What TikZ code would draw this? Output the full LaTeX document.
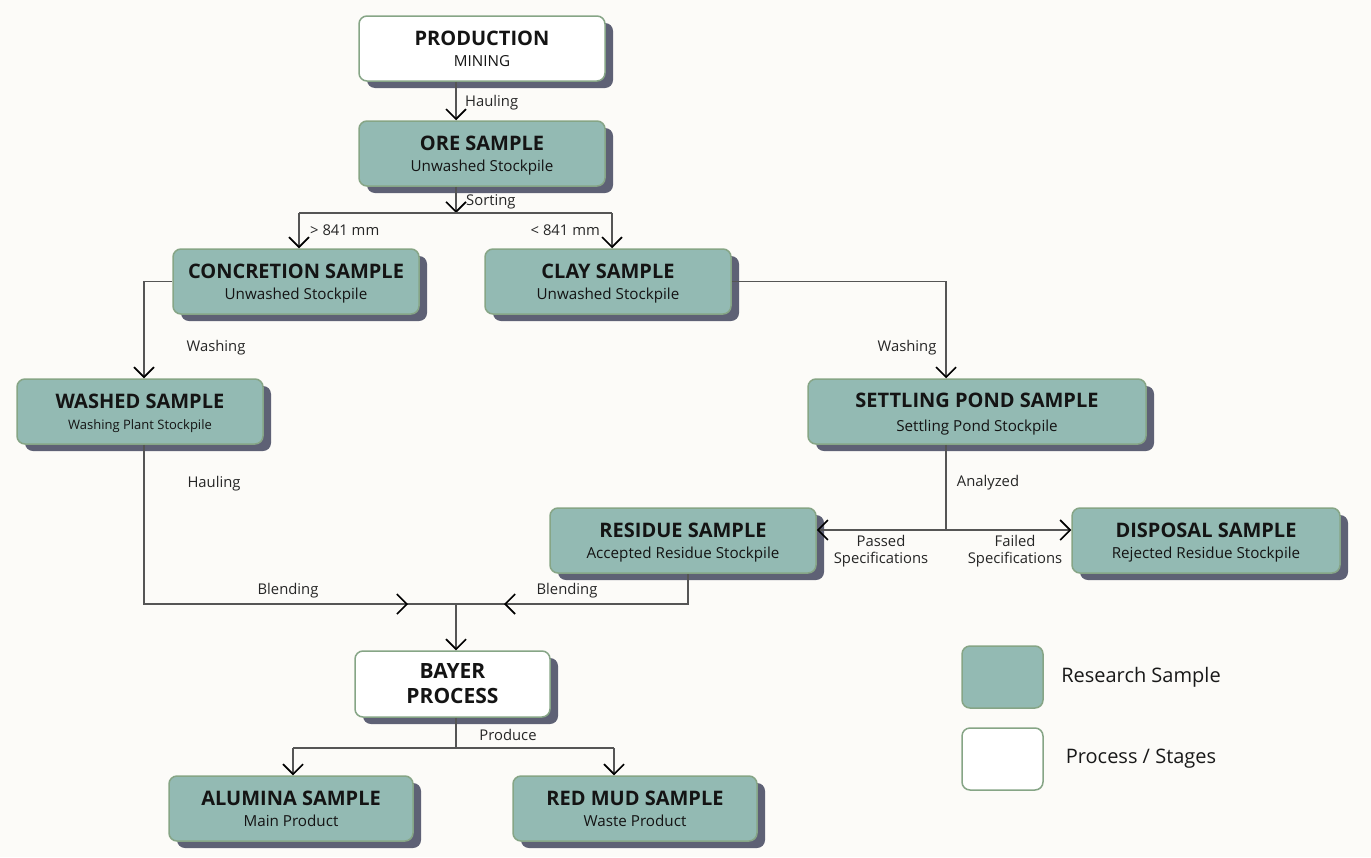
\documentclass[tikz,border=0pt]{standalone}
\usepackage{fontspec}
\setmainfont{Open Sans}
\usetikzlibrary{arrows.meta,shadows}
\definecolor{bgc}{HTML}{FCFBF8}
\definecolor{tealc}{HTML}{93BAB3}
\definecolor{bordc}{HTML}{86A586}
\definecolor{shadc}{HTML}{5E6175}
\definecolor{lnc}{HTML}{555555}
\newcommand\ttl[1]{{\fontsize{20}{21}\selectfont\bfseries\rule{0pt}{19pt}#1}}
\newcommand\stl[1]{{\fontsize{15.2}{17}\selectfont\rule[-4pt]{0pt}{4pt}#1}}
\begin{document}
\begin{tikzpicture}[x=1pt,y=-1pt,
  boxbase/.style={rounded corners=8pt, draw=bordc, line width=1.5pt, align=center, inner sep=0pt,
    minimum height=65pt, font=\fontsize{15}{21}\selectfont, text=black!92,
    drop shadow={shadow xshift=8pt, shadow yshift=-7pt, fill=shadc, opacity=1}},
  sample/.style={boxbase, fill=tealc},
  proc/.style={boxbase, fill=white},
  ln/.style={draw=lnc, line width=1.1pt},
  tip/.style={-{Straight Barb[length=10pt,width=20pt,line width=1.6pt,color=black]}},
  lbl/.style={font=\fontsize{14.8}{17}\selectfont, inner sep=0pt, text=black!85},
]
\fill[bgc] (0,0) rectangle (1371,857);
\useasboundingbox (0,0) rectangle (1371,857);

% nodes
\node[proc, minimum width=246pt] (prod) at (482,48.5) {\ttl{PRODUCTION}\\\stl{MINING}};
\node[sample, minimum width=246pt] (ore) at (482,153.5) {\ttl{ORE SAMPLE}\\\stl{Unwashed Stockpile}};
\node[sample, minimum width=246pt] (conc) at (296,281.5) {\ttl{CONCRETION SAMPLE}\\\stl{Unwashed Stockpile}};
\node[sample, minimum width=246pt] (clay) at (608,281.5) {\ttl{CLAY SAMPLE}\\\stl{Unwashed Stockpile}};
\node[sample, minimum width=246pt] (washed) at (140,411.5) {\ttl{WASHED SAMPLE}\\{\fontsize{13}{15}\selectfont\rule[-4pt]{0pt}{4pt}Washing Plant Stockpile}};
\node[sample, minimum width=338pt, font=\fontsize{15}{24}\selectfont] (settle) at (977,411.5) {\ttl{SETTLING POND SAMPLE}\\\stl{Settling Pond Stockpile}};
\node[sample, minimum width=266pt] (resid) at (683,540.5) {\ttl{RESIDUE SAMPLE}\\\stl{Accepted Residue Stockpile}};
\node[sample, minimum width=268pt] (disp) at (1206,540.5) {\ttl{DISPOSAL SAMPLE}\\\stl{Rejected Residue Stockpile}};
\node[proc, minimum width=195pt, minimum height=66pt, font=\fontsize{21}{25}\selectfont\bfseries] (bayer) at (452.5,684) {BAYER\\PROCESS};
\node[sample, minimum width=244pt] (alum) at (291,808.5) {\ttl{ALUMINA SAMPLE}\\\stl{Main Product}};
\node[sample, minimum width=244pt] (redm) at (635,808.5) {\ttl{RED MUD SAMPLE}\\\stl{Waste Product}};

% legend
\node[rounded corners=8pt, draw=bordc, line width=1.5pt, fill=tealc, minimum width=81pt, minimum height=62pt] (lgA) at (1002.5,677) {};
\node[rounded corners=8pt, draw=bordc, line width=1.5pt, fill=white, minimum width=81pt, minimum height=62pt] (lgB) at (1002.5,759) {};
\node[font=\fontsize{20}{23}\selectfont, inner sep=0pt, text=black!90] (lgAt) at (1141,677) {Research Sample};
\node[font=\fontsize{20}{23}\selectfont, inner sep=0pt, text=black!90] (lgBt) at (1141,759) {Process / Stages};

% coordinates
\coordinate (xA) at (456,0);
\coordinate (sj) at (456,213);
\coordinate (sL) at (299,213);
\coordinate (sR) at (612,213);
\coordinate (wx) at (144,0);
\coordinate (sx) at (946,0);
\coordinate (rx) at (688,0);
\coordinate (bj) at (456,604);
\coordinate (ba1) at (408,604);
\coordinate (ba2) at (504,604);
\coordinate (pj) at (456,748);
\coordinate (pL) at (293,748);
\coordinate (pR) at (614,748);
\coordinate (aj) at (946,530);

% connectors
\draw[ln,tip] (prod.south -| xA) -- (ore.north -| xA);
\draw[ln,tip] (ore.south -| xA) -- (sj);
\draw[ln] (sL) -- (sR);
\draw[ln,tip] (sL) -- (conc.north -| sL);
\draw[ln,tip] (sR) -- (clay.north -| sR);
\draw[ln,tip] (conc.west) -| (washed.north -| wx);
\draw[ln,tip] (clay.east) -| (settle.north -| sx);
\draw[ln] (washed.south -| wx) -- (wx |- bj) -- (rx |- bj) -- (resid.south -| rx);
\draw[ln,tip] (wx |- bj) -- (ba1);
\draw[ln,tip] (rx |- bj) -- (ba2);
\draw[ln,tip] (bj) -- (bayer.north -| bj);
\draw[ln] (bayer.south -| bj) -- (pj);
\draw[ln] (pL) -- (pR);
\draw[ln,tip] (pL) -- (alum.north -| pL);
\draw[ln,tip] (pR) -- (redm.north -| pR);
\draw[ln] (settle.south -| sx) -- (aj);
\draw[ln,tip] (aj) -- (resid.east |- aj);
\draw[ln,tip] (aj) -- (disp.west |- aj);

% labels
\node[lbl, anchor=west] (l1) at (465,103) {Hauling};
\node[lbl, anchor=west] (l2) at (466,202) {Sorting};
\node[lbl, anchor=west] (l3) at (310,230) {> 841 mm};
\node[lbl, anchor=east] (l4) at (600,230) {< 841 mm};
\node[lbl] (l5) at (216,348) {Washing};
\node[lbl] (l6) at (907,348) {Washing};
\node[lbl] (l7) at (214,484) {Hauling};
\node[lbl] (l8) at (988,483) {Analyzed};
\node[lbl, align=center] (l9) at (881,551.5) {Passed\\Specifications};
\node[lbl, align=center] (l10) at (1015,551.5) {Failed\\Specifications};
\node[lbl] (l11) at (288,591) {Blending};
\node[lbl] (l12) at (567,591) {Blending};
\node[lbl] (l13) at (508,735) {Produce};
\end{tikzpicture}
\end{document}
